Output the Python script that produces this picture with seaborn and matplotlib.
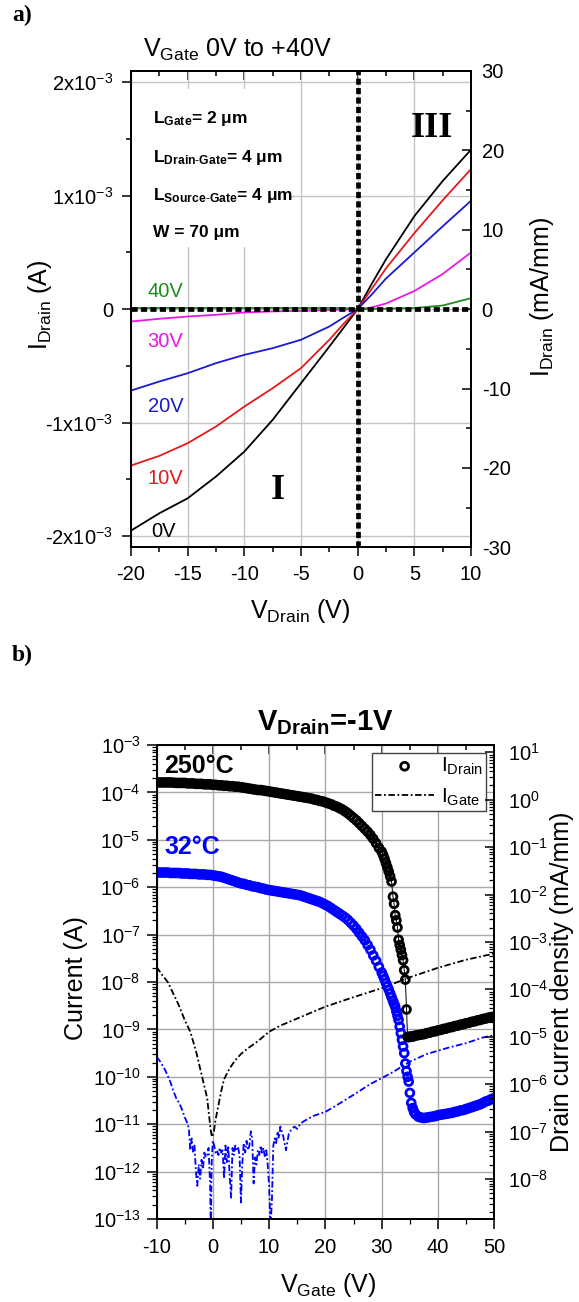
import numpy as np
import pandas as pd
import matplotlib
matplotlib.use("Agg")
import matplotlib.pyplot as plt
import seaborn as sns
from matplotlib.ticker import (MultipleLocator, FixedLocator, FixedFormatter,
                               LogLocator, NullFormatter)
from matplotlib.patches import Rectangle

# ---------------- data: panel a) ----------------
v_drain = [-20, -17.5, -15, -12.5, -10, -7.5, -5, -2.5, -1.25, 0, 1.25, 2.5, 5, 7.5, 10]
# drain current in mA (x1e-3 A) for each gate voltage
id_0V = [-1.953, -1.800, -1.668, -1.476, -1.256, -0.976, -0.653, -0.330, -0.165, 0, 0.225, 0.440, 0.820, 1.130, 1.406]
id_10V = [-1.379, -1.294, -1.182, -1.035, -0.859, -0.697, -0.520, -0.270, -0.130, 0, 0.180, 0.360, 0.670, 0.960, 1.235]
id_20V = [-0.718, -0.638, -0.565, -0.476, -0.403, -0.344, -0.270, -0.153, -0.075, 0, 0.130, 0.270, 0.500, 0.730, 0.956]
id_30V = [-0.109, -0.085, -0.065, -0.050, -0.029, -0.020, -0.015, -0.008, -0.004, 0, 0.015, 0.050, 0.160, 0.310, 0.500]
id_40V = [0.010, 0.010, 0.010, 0.010, 0.010, 0.010, 0.010, 0.010, 0.010, 0, 0.002, 0.004, 0.010, 0.032, 0.097]
gate_labels = ["0V", "10V", "20V", "30V", "40V"]
gate_colors = ["#000000", "#e3191c", "#1a1ad2", "#e619e6", "#1e8c1e"]
left_ticks_a = [-2e-3, -1e-3, 0, 1e-3, 2e-3]
left_ticklabels_a = ["-2x10$^{-3}$", "-1x10$^{-3}$", "0", "1x10$^{-3}$", "2x10$^{-3}$"]
w_mm = 0.07  # gate width 70 um in mm

# ---------------- data: panel b) ----------------
vg_drain = [-10, -9.5, -9, -8.5, -8, -7.5, -7, -6.5, -6, -5.5,
            -5, -4.5, -4, -3.5, -3, -2.5, -2, -1.5, -1, -0.5,
            0, 0.5, 1, 1.5, 2, 2.5, 3, 3.5, 4, 4.5,
            5, 5.5, 6, 6.5, 7, 7.5, 8, 8.5, 9, 9.5,
            10, 10.5, 11, 11.5, 12, 12.5, 13, 13.5, 14, 14.5,
            15, 15.5, 16, 16.5, 17, 17.5, 18, 18.5, 19, 19.5,
            20, 20.5, 21, 21.5, 22, 22.5, 23, 23.5, 24, 24.5,
            25, 25.5, 26, 26.5, 27, 27.5, 28, 28.5, 29, 29.5,
            30.0, 30.25, 30.5, 30.75, 31.0, 31.25, 31.5, 31.75, 32.0, 32.2,
            32.4, 32.6, 32.8, 33.0, 33.2, 33.4, 33.6, 33.8, 34.0, 34.2,
            34.4, 34.6, 34.8, 35.0, 35.25, 35.5, 35.75, 36.0, 36.5, 37.0,
            37.5, 38, 38.5, 39, 39.5, 40, 40.5, 41, 41.5, 42,
            42.5, 43, 43.5, 44, 44.5, 45, 45.5, 46, 46.5, 47,
            47.5, 48, 48.5, 49, 49.5, 50]
# log10 of drain current (A)
log_id_250C = [-3.79, -3.79, -3.79, -3.79, -3.79, -3.79, -3.795, -3.80, -3.80, -3.80,
               -3.80, -3.81, -3.81, -3.81, -3.82, -3.82, -3.82, -3.83, -3.83, -3.83,
               -3.84, -3.84, -3.85, -3.85, -3.86, -3.86, -3.87, -3.87, -3.88, -3.88,
               -3.89, -3.90, -3.91, -3.92, -3.93, -3.94, -3.95, -3.95, -3.96, -3.97,
               -3.98, -3.99, -4.00, -4.01, -4.02, -4.03, -4.04, -4.05, -4.06, -4.07,
               -4.08, -4.09, -4.10, -4.11, -4.12, -4.13, -4.15, -4.16, -4.18, -4.19,
               -4.21, -4.23, -4.25, -4.28, -4.30, -4.33, -4.36, -4.40, -4.44, -4.49,
               -4.54, -4.59, -4.65, -4.71, -4.77, -4.83, -4.90, -4.98, -5.07, -5.17,
               -5.25, -5.32, -5.40, -5.49, -5.58, -5.67, -5.77, -5.88, -6.20, -6.35,
               -6.59, -6.70, -6.85, -7.11, -7.22, -7.32, -7.43, -7.54, -7.75, -7.95,
               -8.58, -9.16, -9.16, -9.16, -9.15, -9.15, -9.14, -9.13, -9.12, -9.11,
               -9.10, -9.08, -9.07, -9.05, -9.04, -9.02, -9.01, -8.99, -8.98, -8.96,
               -8.95, -8.93, -8.92, -8.90, -8.89, -8.87, -8.86, -8.84, -8.83, -8.81,
               -8.80, -8.78, -8.77, -8.75, -8.74, -8.73]
log_id_32C = [-5.69, -5.69, -5.69, -5.69, -5.69, -5.70, -5.70, -5.70, -5.70, -5.71,
              -5.71, -5.71, -5.72, -5.72, -5.72, -5.73, -5.73, -5.73, -5.74, -5.74,
              -5.75, -5.76, -5.77, -5.78, -5.80, -5.82, -5.84, -5.86, -5.88, -5.90,
              -5.92, -5.93, -5.95, -5.96, -5.98, -5.99, -6.00, -6.02, -6.03, -6.05,
              -6.06, -6.07, -6.08, -6.09, -6.10, -6.11, -6.12, -6.13, -6.14, -6.15,
              -6.16, -6.17, -6.19, -6.21, -6.23, -6.25, -6.27, -6.29, -6.31, -6.34,
              -6.37, -6.40, -6.44, -6.48, -6.52, -6.56, -6.60, -6.64, -6.69, -6.75,
              -6.81, -6.88, -6.96, -7.04, -7.12, -7.22, -7.32, -7.44, -7.55, -7.68,
              -7.80, -7.87, -7.94, -8.02, -8.09, -8.16, -8.24, -8.32, -8.40, -8.46,
              -8.52, -8.62, -8.71, -8.80, -8.94, -9.08, -9.22, -9.36, -9.50, -9.72,
              -9.88, -10.00, -10.10, -10.34, -10.55, -10.66, -10.74, -10.79, -10.84, -10.86,
              -10.87, -10.86, -10.85, -10.84, -10.83, -10.81, -10.80, -10.79, -10.78, -10.77,
              -10.76, -10.74, -10.73, -10.71, -10.70, -10.68, -10.66, -10.64, -10.62, -10.60,
              -10.58, -10.55, -10.52, -10.50, -10.47, -10.45]

vg_gate_250C = [-10, -9, -8, -7, -6, -5, -4, -3, -2, -1, -0.4, -0.15, 0.2, 0.5, 1.0, 1.5,
                2, 3, 4, 5, 6, 8, 10, 12, 15, 20, 25, 30, 35, 40, 45, 50]
log_ig_250C = [-7.68, -7.85, -8.00, -8.25, -8.50, -8.80, -9.05, -9.45, -9.95, -10.45, -11.10, -11.27,
               -11.15, -10.90, -10.60, -10.30, -10.05, -9.82, -9.65, -9.52, -9.42, -9.25, -9.05,
               -8.92, -8.77, -8.52, -8.32, -8.13, -7.90, -7.70, -7.53, -7.40]

vg_gate_32C = [-10, -9.5, -9, -8.5, -8, -7.5, -7, -6.5, -6, -5.5, -5, -4.5,
               -4.25, -4.0, -3.75, -3.5, -3.25, -3.0, -2.75, -2.5, -2.25, -2.0, -1.75, -1.5,
               -1.25, -1.0, -0.75, -0.5, -0.35, -0.2, 0.0, 0.25, 0.5, 0.75, 1.0, 1.25,
               1.5, 1.75, 2.0, 2.25, 2.5, 2.75, 3.0, 3.25, 3.5, 3.75, 4.0, 4.25,
               4.5, 4.75, 5.0, 5.25, 5.5, 5.75, 6.0, 6.25, 6.5, 6.75, 7.0, 7.25,
               7.5, 7.75, 8.0, 8.25, 8.5, 8.75, 9.0, 9.25, 9.5, 9.75, 10.0, 10.25,
               10.5, 10.75, 11.0, 11.25, 11.5, 11.75, 12.0, 12.5, 13.0, 13.5, 14.0, 14.5,
               15.0, 15.5, 16.0, 17, 18, 20, 22, 25, 28, 30, 32, 35, 38, 40, 42, 45, 48, 50]
log_ig_32C = [-9.58, -9.65, -9.75, -9.85, -9.98, -10.12, -10.30, -10.45, -10.55, -10.68, -10.85, -10.98,
              -11.10, -11.55, -11.30, -11.60, -11.45, -12.00, -12.30, -11.85, -12.15, -11.75, -11.95, -11.60,
              -11.70, -11.65, -11.50, -12.20, -13.20, -11.80, -11.35, -11.45, -11.60, -11.55, -11.65, -11.50,
              -11.60, -11.55, -12.15, -11.45, -11.80, -11.45, -12.10, -12.55, -11.50, -11.65, -11.45, -11.55,
              -11.50, -11.65, -12.65, -11.80, -11.40, -11.60, -11.35, -11.55, -11.45, -11.15, -11.30, -12.25,
              -11.70, -11.85, -11.55, -11.65, -11.45, -11.60, -11.50, -11.70, -11.55, -11.85, -12.30, -13.20,
              -12.60, -11.45, -11.30, -11.40, -11.15, -11.30, -11.05, -11.25, -11.55, -11.20, -11.10, -11.05,
              -11.10, -11.00, -10.95, -10.88, -10.82, -10.74, -10.60, -10.38, -10.15, -10.03, -9.90, -9.68,
              -9.52, -9.45, -9.38, -9.29, -9.17, -9.12]

# ---------------- style ----------------
sns.set_style("ticks")
plt.rcParams["font.family"] = ["Liberation Sans", "DejaVu Sans"]
plt.rcParams["mathtext.fontset"] = "custom"
plt.rcParams["mathtext.rm"] = "Liberation Sans"
plt.rcParams["mathtext.it"] = "Liberation Sans:italic"
plt.rcParams["mathtext.bf"] = "Liberation Sans:bold"
plt.rcParams["mathtext.default"] = "regular"
plt.rcParams["axes.unicode_minus"] = False
plt.rcParams["axes.edgecolor"] = "black"
plt.rcParams["xtick.color"] = "black"
plt.rcParams["ytick.color"] = "black"
plt.rcParams["text.color"] = "black"
plt.rcParams["axes.labelcolor"] = "black"

W, H = 579, 1302
fig = plt.figure(figsize=(W / 100, H / 100), dpi=100, facecolor="white")


def frac_rect(x0, y0, x1, y1):
    return [x0 / W, 1 - y1 / H, (x1 - x0) / W, (y1 - y0) / H]


TICK = 14.5
LAB = 18

# ================= panel a =================
ax = fig.add_axes(frac_rect(131, 71, 471, 547.3))
df_a = pd.DataFrame({
    "V": v_drain * 5,
    "I": np.concatenate([id_0V, id_10V, id_20V, id_30V, id_40V]) * 1e-3,
    "gate": np.repeat(gate_labels, len(v_drain)),
})
sns.lineplot(data=df_a, x="V", y="I", hue="gate", palette=dict(zip(gate_labels, gate_colors)),
             estimator=None, sort=False, lw=1.3, legend=False, ax=ax, zorder=2)
ax.set_xlim(-20, 10)
ax.set_ylim(-2.1e-3, 2.1e-3)
ax.xaxis.set_major_locator(MultipleLocator(5))
ax.xaxis.set_minor_locator(MultipleLocator(2.5))
ax.yaxis.set_major_locator(FixedLocator(left_ticks_a))
ax.yaxis.set_major_formatter(FixedFormatter(left_ticklabels_a))
ax.yaxis.set_minor_locator(MultipleLocator(0.5e-3))
ax.set_axisbelow(True)
ax.grid(True, which="major", color="#c4c4c4", lw=1.0)
for s in ax.spines.values():
    s.set_linewidth(1.3)
ax.tick_params(axis="x", which="both", direction="out", top=False, labelsize=TICK, pad=6.5)
ax.tick_params(axis="y", which="both", direction="out", right=False, labelsize=TICK, pad=6.5)
ax.tick_params(which="major", length=6.5, width=1.1)
ax.tick_params(which="minor", length=3.5, width=1.1)

sec = ax.secondary_xaxis("top")
sec.xaxis.set_major_locator(MultipleLocator(5))
sec.xaxis.set_minor_locator(MultipleLocator(2.5))
sec.xaxis.set_major_formatter(NullFormatter())
sec.tick_params(which="both", direction="in", width=1.1)
sec.tick_params(which="major", length=6.5)
sec.tick_params(which="minor", length=3.5)
sec.spines["top"].set_linewidth(1.3)

ax2 = ax.twinx()
ax2.set_ylim(-2.1e-3 / w_mm * 1e3, 2.1e-3 / w_mm * 1e3)
ax2.yaxis.set_major_locator(MultipleLocator(10))
ax2.yaxis.set_minor_locator(MultipleLocator(5))
ax2.tick_params(axis="y", which="both", direction="in", labelsize=TICK, pad=7.7, width=1.1)
ax2.tick_params(which="major", length=6.5)
ax2.tick_params(which="minor", length=3.5)
for s in ax2.spines.values():
    s.set_linewidth(1.3)

dotted = dict(color="black", lw=3.4, ls=(0, (1.3, 0.7)), zorder=4)
ax.axvline(0, **dotted)
ax.axhline(0, **dotted)

ax.add_patch(Rectangle((0.004, 0.63), 0.465, 0.332, transform=ax.transAxes,
                       fc="white", ec="none", zorder=1))
info = [r"$L_{Gate}$= 2 μm", r"$L_{Drain\text{-}Gate}$= 4 μm",
        r"$L_{Source\text{-}Gate}$= 4 μm", "W = 70 μm"]
for txt, yy in zip(info, [0.890, 0.809, 0.729, 0.651]):
    ax.text(0.066, yy, txt, transform=ax.transAxes, fontsize=12.5, fontweight="bold",
            va="baseline", ha="left", zorder=5)

for lab, col, yy, xx in zip(gate_labels, gate_colors,
                            [0.022, 0.132, 0.284, 0.421, 0.526],
                            [0.059, 0.049, 0.049, 0.049, 0.049]):
    ax.text(xx, yy, lab, color=col, transform=ax.transAxes, fontsize=14.5,
            va="baseline", ha="left", zorder=5)

ax.text(0.886, 0.862, "III", transform=ax.transAxes, fontsize=26, fontweight="bold",
        family="Liberation Serif", ha="center", va="baseline", zorder=5)
ax.text(0.432, 0.102, "I", transform=ax.transAxes, fontsize=26, fontweight="bold",
        family="Liberation Serif", ha="center", va="baseline", zorder=5)

ax.set_xlabel(r"$V_{Drain}$ (V)", fontsize=LAB)
ax.xaxis.label.set_va("baseline")
ax.xaxis.set_label_coords(300 / W, 1 - 618.3 / H, transform=fig.transFigure)
ax.set_ylabel(r"$I_{Drain}$ (A)", fontsize=LAB)
ax.yaxis.label.set_va("center")
ax.yaxis.set_label_coords(40 / W, 1 - 305 / H, transform=fig.transFigure)
ax2.set_ylabel(r"$I_{Drain}$ (mA/mm)", fontsize=LAB)
ax2.yaxis.label.set_va("center")
ax2.yaxis.set_label_coords(542 / W, 1 - 297.5 / H, transform=fig.transFigure)

fig.text(142.6 / W, 1 - 57.3 / H, r"$V_{Gate}$ 0V to +40V", fontsize=18, va="baseline", ha="left")
fig.text(12 / W, 1 - 21 / H, "a)", family="Liberation Serif", fontweight="bold", fontsize=17,
         va="baseline")
fig.text(12 / W, 1 - 661 / H, "b)", family="Liberation Serif", fontweight="bold", fontsize=17,
         va="baseline")

# ================= panel b =================
axb = fig.add_axes(frac_rect(156.5, 745, 494.3, 1219))
axb.set_yscale("log")
gate_ls = (0, (3.6, 1.4, 1.0, 1.4))
sns.lineplot(x=vg_gate_250C, y=10 ** np.array(log_ig_250C), color="black", lw=1.3,
             linestyle=gate_ls, estimator=None, sort=False, ax=axb, legend=False)
gate_line = axb.lines[-1]
sns.lineplot(x=vg_gate_32C, y=10 ** np.array(log_ig_32C), color="#0000ff", lw=1.3,
             linestyle=gate_ls, estimator=None, sort=False, ax=axb, legend=False)
sns.lineplot(x=vg_drain, y=10 ** np.array(log_id_250C), color="black", lw=0.7,
             estimator=None, sort=False, ax=axb, legend=False)
sns.scatterplot(x=vg_drain, y=10 ** np.array(log_id_32C), marker="o", s=32, fc="none",
                ec="#0000ff", linewidth=2.0, ax=axb, legend=False, zorder=3)
sns.scatterplot(x=vg_drain, y=10 ** np.array(log_id_250C), marker="o", s=32, fc="none",
                ec="black", linewidth=2.0, ax=axb, legend=False, zorder=3)
drain_pts = axb.collections[-1]

axb.set_xlim(-10, 50)
axb.set_ylim(1e-13, 1e-3)
axb.xaxis.set_major_locator(MultipleLocator(10))
axb.xaxis.set_minor_locator(MultipleLocator(5))
axb.yaxis.set_major_locator(LogLocator(base=10, numticks=20))
axb.yaxis.set_minor_locator(LogLocator(base=10, subs=(2, 3, 4, 5, 6, 7, 8, 9), numticks=20))
axb.yaxis.set_minor_formatter(NullFormatter())
axb.set_axisbelow(True)
axb.grid(True, which="major", color="#a8a8a8", lw=1.0)
for s in axb.spines.values():
    s.set_linewidth(1.3)
axb.tick_params(axis="x", which="both", direction="out", top=False, labelsize=TICK, pad=7)
axb.tick_params(axis="y", which="both", direction="out", right=False, labelsize=TICK, pad=4.5)
axb.tick_params(which="major", length=7, width=1.1)
axb.tick_params(which="minor", length=3.5, width=0.9)

secb = axb.secondary_xaxis("top")
secb.xaxis.set_major_locator(MultipleLocator(10))
secb.xaxis.set_minor_locator(MultipleLocator(5))
secb.xaxis.set_major_formatter(NullFormatter())
secb.tick_params(which="both", direction="in", width=1.1)
secb.tick_params(which="major", length=6.5)
secb.tick_params(which="minor", length=3.5)
secb.spines["top"].set_linewidth(1.3)

axb2 = axb.twinx()
axb2.set_yscale("log")
axb2.set_ylim(1e-13 / w_mm * 1e3, 1e-3 / w_mm * 1e3)
axb2.yaxis.set_major_locator(LogLocator(base=10, numticks=20))
axb2.yaxis.set_minor_locator(LogLocator(base=10, subs=(2, 3, 4, 5, 6, 7, 8, 9), numticks=20))
axb2.yaxis.set_minor_formatter(NullFormatter())
axb2.tick_params(axis="y", which="both", direction="in", labelsize=TICK, pad=10, width=1.1)
axb2.tick_params(which="major", length=6.5)
axb2.tick_params(which="minor", length=3.5, width=0.9)
for s in axb2.spines.values():
    s.set_linewidth(1.3)

leg = axb.legend(handles=[drain_pts, gate_line], labels=[r"$I_{Drain}$", r"$I_{Gate}$"],
                 loc="upper right", bbox_to_anchor=(0.976, 0.984), fontsize=15,
                 frameon=True, fancybox=False, framealpha=1, edgecolor="#444444",
                 handlelength=2.8, handletextpad=0.35, borderpad=0.15, labelspacing=0.45,
                 borderaxespad=0)
leg.get_frame().set_linewidth(1.0)

axb.text(0.0225, 0.940, "250°C", transform=axb.transAxes, fontsize=18, fontweight="bold",
         va="baseline", ha="left", color="black")
axb.text(0.0225, 0.770, "32°C", transform=axb.transAxes, fontsize=18, fontweight="bold",
         va="baseline", ha="left", color="#0000ff")

fig.text(325.4 / W, 1 - 730 / H, r"$V_{Drain}$=-1V", fontsize=21, fontweight="bold",
         ha="center", va="baseline")
axb.set_xlabel(r"$V_{Gate}$ (V)", fontsize=LAB)
axb.xaxis.label.set_va("baseline")
axb.xaxis.set_label_coords(328 / W, 1 - 1291.7 / H, transform=fig.transFigure)
axb.set_ylabel("Current (A)", fontsize=LAB)
axb.yaxis.label.set_va("center")
axb.yaxis.set_label_coords(76.5 / W, 1 - 978 / H, transform=fig.transFigure)
axb2.set_ylabel("Drain current density (mA/mm)", fontsize=LAB)
axb2.yaxis.label.set_va("center")
axb2.yaxis.set_label_coords(562 / W, 1 - 981.7 / H, transform=fig.transFigure)

fig.savefig("out.png", dpi=100, facecolor="white")
